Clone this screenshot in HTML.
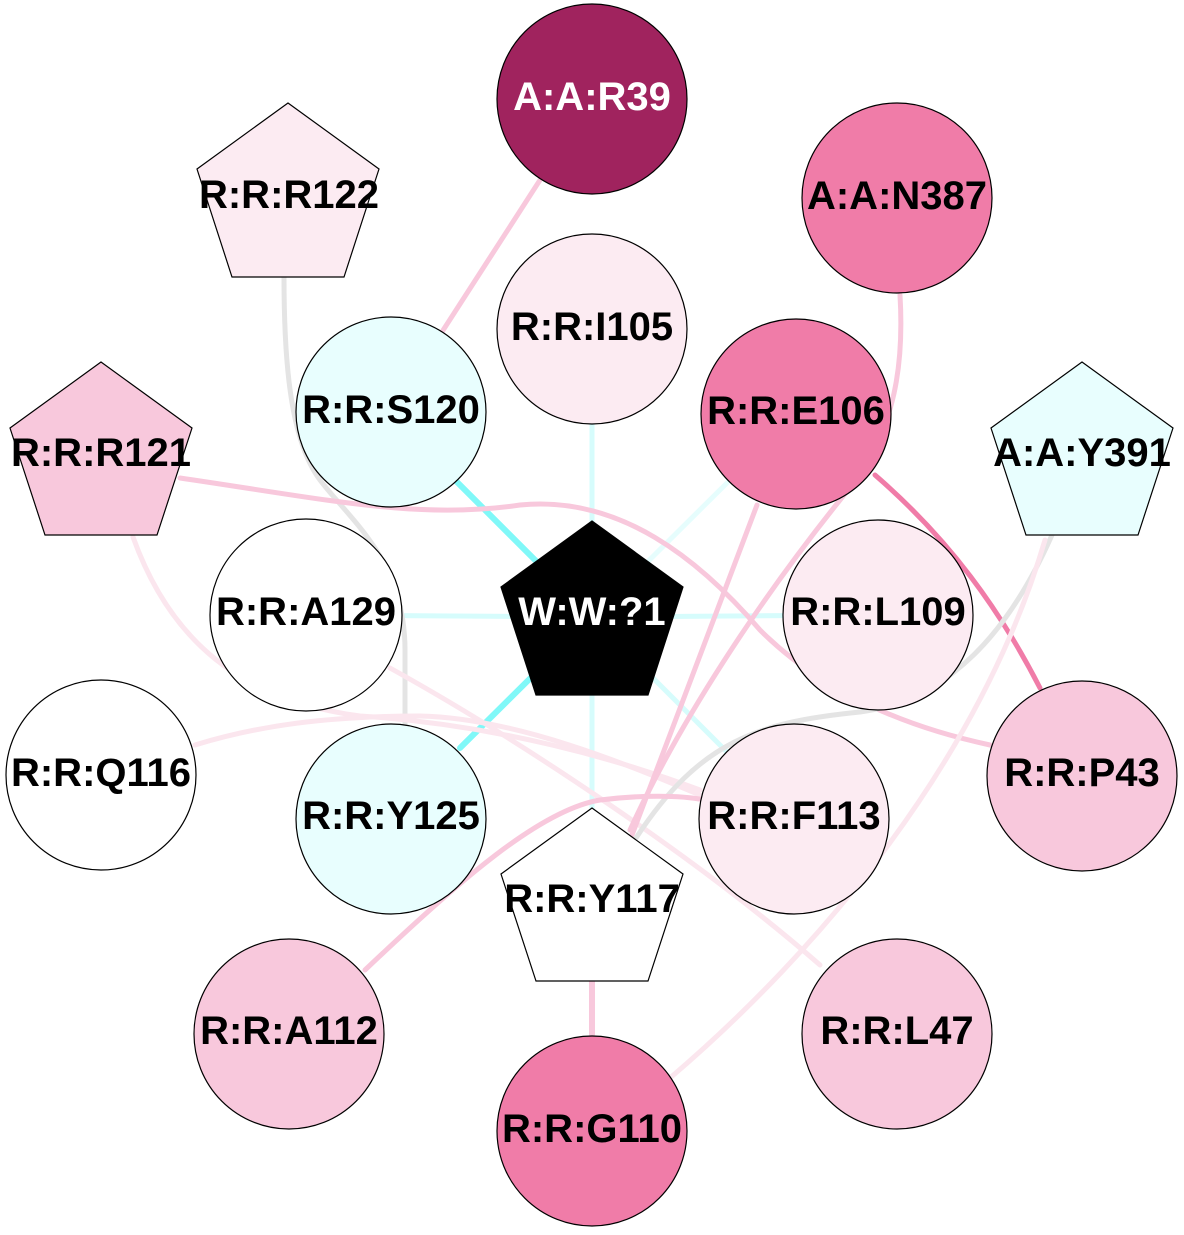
<!DOCTYPE html>
<html><head><meta charset="utf-8"><style>
html,body{margin:0;padding:0;background:#fff;}
svg{display:block;}
text{font-family:"Liberation Sans",sans-serif;font-weight:bold;font-size:40px;text-anchor:middle;dominant-baseline:central;}
</style></head><body>
<svg width="1184" height="1235" viewBox="0 0 1184 1235" xmlns="http://www.w3.org/2000/svg">
<g fill="none" stroke-linecap="round">
<line x1="592" y1="617" x2="592" y2="420" stroke="#d6fcfc" stroke-width="5"/>
<line x1="592" y1="617" x2="306" y2="615" stroke="#d6fcfc" stroke-width="5"/>
<line x1="592" y1="617" x2="878" y2="615" stroke="#d6fcfc" stroke-width="5"/>
<line x1="592" y1="617" x2="730" y2="480" stroke="#e6fdfd" stroke-width="5"/>
<line x1="592" y1="617" x2="730" y2="755" stroke="#d6fcfc" stroke-width="5"/>
<line x1="592" y1="617" x2="592" y2="810" stroke="#d6fcfc" stroke-width="5"/>
<line x1="592" y1="617" x2="455" y2="480" stroke="#80f8f8" stroke-width="6"/>
<line x1="592" y1="617" x2="460" y2="748" stroke="#80f8f8" stroke-width="6"/>
<line x1="540" y1="180" x2="440" y2="335" stroke="#f8c8dc" stroke-width="5"/>
<path d="M284,277 C284,360 290,440 320,480 C350,520 405,560 405,650 L405,725" stroke="#e4e4e4" stroke-width="5"/>
<path d="M133,537 C170,640 240,700 360,716 C500,725 620,760 700,790" stroke="#fbe6ee" stroke-width="5"/>
<path d="M195,745 C260,725 330,716 420,716 C520,718 640,770 700,795" stroke="#fbe6ee" stroke-width="5"/>
<path d="M390,668 C520,740 700,860 820,965" stroke="#fbe6ee" stroke-width="5"/>
<path d="M180,478 C330,500 420,520 520,505 C620,495 700,560 760,630 C830,700 920,730 990,745" stroke="#f8c8dc" stroke-width="5"/>
<path d="M900,295 C905,380 890,440 840,500 C760,600 680,720 630,830" stroke="#f8c8dc" stroke-width="5"/>
<line x1="757" y1="505" x2="632" y2="835" stroke="#f8c8dc" stroke-width="5"/>
<path d="M875,475 C950,540 1000,610 1040,688" stroke="#f07ca8" stroke-width="5"/>
<path d="M1052,535 C1010,630 950,700 860,712 C760,722 700,740 636,838" stroke="#e4e4e4" stroke-width="5"/>
<path d="M1045,540 C980,760 820,950 670,1078" stroke="#fbe6ee" stroke-width="5"/>
<path d="M365,970 C460,880 540,810 600,800 C640,795 680,795 705,800" stroke="#f8c8dc" stroke-width="5"/>
<line x1="592" y1="981" x2="592" y2="1035" stroke="#f8c8dc" stroke-width="6"/>
</g>
<g stroke="#000" stroke-width="1.2">
<circle cx="592" cy="99" r="95" fill="#a0235e"/>
<polygon points="288,103 379,169 344,277 232,277 197,169" fill="#fcebf2"/>
<circle cx="897" cy="198" r="95" fill="#f07ca8"/>
<circle cx="592" cy="329" r="95" fill="#fcebf2"/>
<circle cx="391" cy="412" r="95" fill="#e8fefe"/>
<circle cx="796" cy="414" r="95" fill="#f07ca8"/>
<polygon points="101,362 192,428 157,535 45,535 10,428" fill="#f8c8dc"/>
<polygon points="1082,362 1173,428 1138,535 1026,535 991,428" fill="#e8fefe"/>
<circle cx="306" cy="615" r="96" fill="#fff"/>
<polygon points="592,521 683,587 648,695 536,695 501,587" fill="#000"/>
<circle cx="878" cy="615" r="95" fill="#fcebf2"/>
<circle cx="101" cy="775" r="95" fill="#fff"/>
<circle cx="1082" cy="776" r="95" fill="#f8c8dc"/>
<circle cx="391" cy="819" r="95" fill="#e8fefe"/>
<circle cx="794" cy="819" r="95" fill="#fcebf2"/>
<polygon points="592,808 683,874 648,981 536,981 501,874" fill="#fff"/>
<circle cx="289" cy="1034" r="95" fill="#f8c8dc"/>
<circle cx="897" cy="1034" r="95" fill="#f8c8dc"/>
<circle cx="592" cy="1131" r="95" fill="#f07ca8"/>
</g>
<g>
<text x="592" y="97" fill="#fff">A:A:R39</text>
<text x="289" y="195">R:R:R122</text>
<text x="897" y="196">A:A:N387</text>
<text x="592" y="327">R:R:I105</text>
<text x="391" y="410">R:R:S120</text>
<text x="796" y="411">R:R:E106</text>
<text x="101" y="453">R:R:R121</text>
<text x="1082" y="453">A:A:Y391</text>
<text x="306" y="612">R:R:A129</text>
<text x="592" y="612" fill="#fff">W:W:?1</text>
<text x="878" y="612">R:R:L109</text>
<text x="101" y="773">R:R:Q116</text>
<text x="1082" y="773">R:R:P43</text>
<text x="391" y="816">R:R:Y125</text>
<text x="794" y="816">R:R:F113</text>
<text x="592" y="899">R:R:Y117</text>
<text x="289" y="1031">R:R:A112</text>
<text x="897" y="1031">R:R:L47</text>
<text x="592" y="1129">R:R:G110</text>
</g>
</svg>
</body></html>
